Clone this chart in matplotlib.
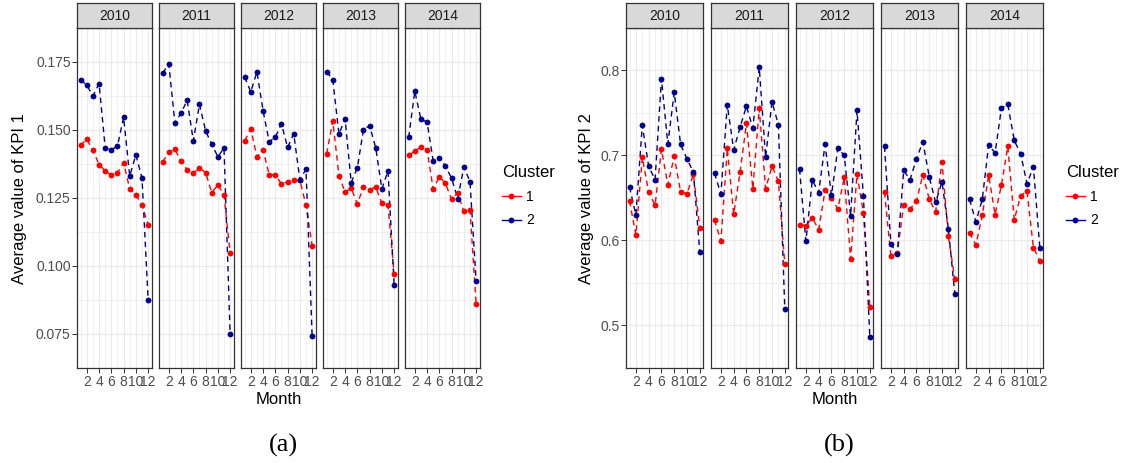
import matplotlib
matplotlib.use("Agg")
import matplotlib.pyplot as plt
from matplotlib.ticker import FormatStrFormatter
import numpy as np

plt.rcParams['font.family'] = ['Liberation Sans', 'DejaVu Sans']

years = [2010, 2011, 2012, 2013, 2014]
months = np.arange(1, 13)
month_ticks = [2, 4, 6, 8, 10, 12]

# average KPI 1 per month, one row per year
kpi1_c1 = [
    [0.1443, 0.1466, 0.1425, 0.1372, 0.1349, 0.1334, 0.1342, 0.1379, 0.1283, 0.1262, 0.1223, 0.1152],
    [0.1382, 0.1417, 0.1428, 0.1385, 0.1353, 0.1340, 0.1360, 0.1343, 0.1269, 0.1298, 0.1261, 0.1047],
    [0.1460, 0.1502, 0.1401, 0.1427, 0.1334, 0.1335, 0.1301, 0.1309, 0.1314, 0.1315, 0.1223, 0.1074],
    [0.1412, 0.1533, 0.1332, 0.1271, 0.1286, 0.1228, 0.1290, 0.1280, 0.1290, 0.1230, 0.1224, 0.0970],
    [0.1406, 0.1422, 0.1437, 0.1427, 0.1282, 0.1328, 0.1303, 0.1244, 0.1268, 0.1201, 0.1207, 0.0860],
]
kpi1_c2 = [
    [0.1683, 0.1664, 0.1624, 0.1670, 0.1433, 0.1427, 0.1440, 0.1546, 0.1330, 0.1408, 0.1323, 0.0876],
    [0.1708, 0.1742, 0.1524, 0.1562, 0.1608, 0.1459, 0.1594, 0.1496, 0.1447, 0.1401, 0.1433, 0.0750],
    [0.1694, 0.1639, 0.1713, 0.1570, 0.1456, 0.1473, 0.1522, 0.1435, 0.1486, 0.1317, 0.1355, 0.0742],
    [0.1713, 0.1684, 0.1484, 0.1541, 0.1306, 0.1360, 0.1501, 0.1515, 0.1434, 0.1283, 0.1349, 0.0930],
    [0.1472, 0.1642, 0.1538, 0.1529, 0.1385, 0.1398, 0.1366, 0.1322, 0.1247, 0.1363, 0.1310, 0.0944],
]

# average KPI 2 per month, one row per year
kpi2_c1 = [
    [0.6464, 0.6063, 0.6975, 0.6567, 0.6413, 0.7070, 0.6652, 0.6989, 0.6570, 0.6550, 0.6775, 0.6144],
    [0.6240, 0.5991, 0.7081, 0.6308, 0.6801, 0.7377, 0.6607, 0.7551, 0.6607, 0.6873, 0.6696, 0.5719],
    [0.6185, 0.6172, 0.6264, 0.6127, 0.6587, 0.6502, 0.6369, 0.6740, 0.5780, 0.6781, 0.6321, 0.5215],
    [0.6567, 0.5811, 0.5855, 0.6417, 0.6369, 0.6458, 0.6774, 0.6485, 0.6335, 0.6921, 0.6049, 0.5545],
    [0.6090, 0.5947, 0.6294, 0.6767, 0.6304, 0.6652, 0.7105, 0.6240, 0.6526, 0.6580, 0.5913, 0.5763],
]
kpi2_c2 = [
    [0.6628, 0.6298, 0.7353, 0.6870, 0.6713, 0.7898, 0.7132, 0.7741, 0.7128, 0.6958, 0.6801, 0.5862],
    [0.6791, 0.6543, 0.7595, 0.7064, 0.7329, 0.7578, 0.7316, 0.8034, 0.6975, 0.7629, 0.7360, 0.5191],
    [0.6839, 0.5991, 0.6710, 0.6560, 0.7128, 0.6529, 0.7084, 0.6999, 0.6291, 0.7527, 0.6526, 0.4868],
    [0.7105, 0.5957, 0.5840, 0.6822, 0.6713, 0.6958, 0.7159, 0.6747, 0.6447, 0.6689, 0.6134, 0.5375],
    [0.6481, 0.6219, 0.6481, 0.7125, 0.7026, 0.7557, 0.7598, 0.7176, 0.7019, 0.6665, 0.6866, 0.5916],
]

kpi1_ticks = [0.075, 0.100, 0.125, 0.150, 0.175]
kpi2_ticks = [0.5, 0.6, 0.7, 0.8]

W, H = 1125, 463
fig = plt.figure(figsize=(W / 100, H / 100), dpi=100)

RED = '#FF0000'
BLUE = '#00008B'
GRID = '#EBEBEB'
DARK = '#333333'
DASH = (0, (4, 3))
MS = 4.2


def px_axes(x0, y0, x1, y1):
    return fig.add_axes([x0 / W, 1 - y1 / H, (x1 - x0) / W, (y1 - y0) / H])


def facet_row(left, width, step, c1, c2, yticks, yfmt, ylabel, ylabel_x, legend_x, tag):
    allv = np.concatenate([np.ravel(c1), np.ravel(c2)])
    lo, hi = allv.min(), allv.max()
    pad = 0.05 * (hi - lo)
    ylim = (lo - pad, hi + pad)
    ystep = yticks[1] - yticks[0]
    yminor = np.arange(yticks[0] - ystep / 2, yticks[-1] + ystep, ystep)

    top, bottom = 27.7, 368.0
    for i, yr in enumerate(years):
        x0 = left + i * step
        ax = px_axes(x0, top, x0 + width, bottom)
        ax.set_xlim(0.45, 12.55)
        ax.set_ylim(*ylim)
        ax.set_xticks(month_ticks)
        ax.set_xticks(np.arange(1, 13, 2), minor=True)
        ax.set_yticks(yticks)
        ax.set_yticks(yminor, minor=True)
        ax.yaxis.set_major_formatter(FormatStrFormatter(yfmt))
        ax.grid(which='major', color=GRID, lw=0.9)
        ax.grid(which='minor', color=GRID, lw=0.5)
        ax.set_axisbelow(True)
        ax.tick_params(which='minor', length=0)
        ax.tick_params(which='major', length=3.3, width=0.7, color=DARK,
                       labelsize=10, labelcolor='#4D4D4D', pad=1.5)
        if i > 0:
            ax.tick_params(axis='y', left=False, labelleft=False)
        for s in ax.spines.values():
            s.set_color(DARK)
            s.set_linewidth(0.9)

        # lines first, then points, like the ggplot layers
        ax.plot(months, c1[i], color=RED, ls=DASH, lw=1.0, zorder=2)
        ax.plot(months, c2[i], color=BLUE, ls=DASH, lw=1.0, zorder=2)
        ax.plot(months, c1[i], 'o', color=RED, ms=MS, mew=0, zorder=3)
        ax.plot(months, c2[i], 'o', color=BLUE, ms=MS, mew=0, zorder=3)

        sax = px_axes(x0, 3.3, x0 + width, top)
        sax.set_facecolor('#D9D9D9')
        sax.set_xticks([])
        sax.set_yticks([])
        for s in sax.spines.values():
            s.set_color(DARK)
            s.set_linewidth(0.9)
        sax.text(0.5, 0.47, str(yr), ha='center', va='center', fontsize=10,
                 color='#1A1A1A', transform=sax.transAxes)

    mid = left + (4 * step + width) / 2
    fig.text(ylabel_x / W, 1 - 199 / H, ylabel, rotation=90, ha='center',
             va='center', fontsize=12, color='black')
    fig.text(mid / W, 1 - 400 / H, 'Month', ha='center', va='center',
             fontsize=12, color='black')
    fig.text((mid + 5) / W, 1 - 445 / H, tag, ha='center', va='center',
             fontsize=19, family='Liberation Serif', color='black')

    h1 = plt.Line2D([], [], color=RED, lw=1.0, marker='o', ms=MS, mew=0)
    h2 = plt.Line2D([], [], color=BLUE, lw=1.0, marker='o', ms=MS, mew=0)
    fig.legend([h1, h2], ['1', '2'], title='Cluster', loc='upper left',
               bbox_to_anchor=(legend_x / W, 1 - 165 / H), frameon=False,
               fontsize=10, title_fontsize=12, handlelength=1.35,
               handletextpad=0.4, labelspacing=0.7, borderpad=0,
               borderaxespad=0, alignment='left')


facet_row(77.3, 74.2, 82.0, kpi1_c1, kpi1_c2, kpi1_ticks, '%.3f',
          'Average value of KPI 1', 20, 502, '(a)')
facet_row(626.0, 77.3, 85.0, kpi2_c1, kpi2_c2, kpi2_ticks, '%.1f',
          'Average value of KPI 2', 586, 1066, '(b)')

fig.savefig('out.png', dpi=100, facecolor='white')
